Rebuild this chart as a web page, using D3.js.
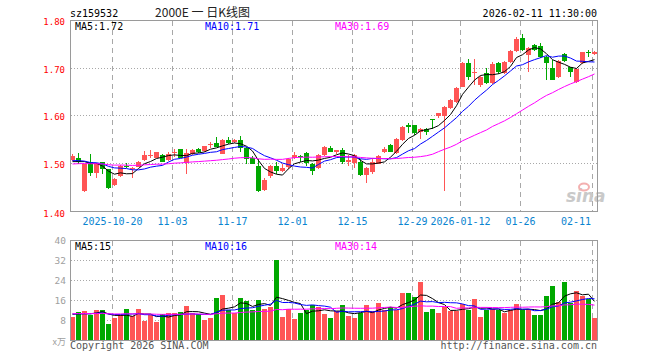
<!DOCTYPE html>
<html><head><meta charset="utf-8">
<script src="https://cdn.jsdelivr.net/npm/d3@7"></script>
<style>body{margin:0;background:#fff}svg{display:block}</style>
</head><body>
<svg id="c" width="660" height="360"></svg>
<script>
const dates = ["2025-10-09","2025-10-10","2025-10-13","2025-10-14","2025-10-15","2025-10-16","2025-10-17","2025-10-20","2025-10-21","2025-10-22","2025-10-23","2025-10-24","2025-10-27","2025-10-28","2025-10-29","2025-10-30","2025-10-31",
"2025-11-03","2025-11-04","2025-11-05","2025-11-06","2025-11-07","2025-11-10","2025-11-11","2025-11-12","2025-11-13","2025-11-14","2025-11-17","2025-11-18","2025-11-19","2025-11-20","2025-11-21","2025-11-24","2025-11-25","2025-11-26","2025-11-27","2025-11-28",
"2025-12-01","2025-12-02","2025-12-03","2025-12-04","2025-12-05","2025-12-08","2025-12-09","2025-12-10","2025-12-11","2025-12-12","2025-12-15","2025-12-16","2025-12-17","2025-12-18","2025-12-19","2025-12-22","2025-12-23","2025-12-24","2025-12-25","2025-12-26","2025-12-29","2025-12-30","2025-12-31",
"2026-01-05","2026-01-06","2026-01-07","2026-01-08","2026-01-09","2026-01-12","2026-01-13","2026-01-14","2026-01-15","2026-01-16","2026-01-19","2026-01-20","2026-01-21","2026-01-22","2026-01-23","2026-01-26","2026-01-27","2026-01-28","2026-01-29","2026-01-30",
"2026-02-02","2026-02-03","2026-02-04","2026-02-05","2026-02-06","2026-02-09","2026-02-10","2026-02-11"];

const open  = [1.508,1.513,1.444,1.505,1.482,1.505,1.489,1.456,1.474,1.4965,1.489,1.494,1.508,1.517,1.513,1.519,1.508,1.525,1.531,1.503,1.520,1.531,1.527,1.540,1.544,1.521,1.550,1.545,1.550,1.533,1.513,1.4965,1.446,1.475,1.4965,1.485,1.494,1.512,1.517,1.522,1.500,1.492,1.519,1.534,1.524,1.529,1.505,1.503,1.505,1.477,1.484,1.501,1.524,1.540,1.522,1.550,1.581,1.581,1.566,1.572,1.594,1.600,1.599,1.616,1.630,1.661,1.710,1.690,1.665,1.689,1.668,1.710,1.689,1.713,1.736,1.762,1.727,1.748,1.745,1.722,1.701,1.682,1.729,1.703,1.671,1.710,1.733,1.730];
const high  = [1.521,1.522,1.501,1.521,1.503,1.505,1.490,1.470,1.498,1.503,1.494,1.506,1.528,1.529,1.525,1.520,1.524,1.531,1.532,1.532,1.532,1.533,1.538,1.546,1.557,1.553,1.556,1.552,1.558,1.535,1.516,1.510,1.470,1.498,1.505,1.500,1.512,1.525,1.518,1.524,1.502,1.521,1.538,1.538,1.530,1.533,1.519,1.520,1.510,1.494,1.510,1.518,1.535,1.541,1.555,1.580,1.585,1.582,1.575,1.575,1.594,1.607,1.620,1.635,1.660,1.712,1.718,1.718,1.684,1.701,1.712,1.712,1.715,1.737,1.764,1.771,1.744,1.751,1.752,1.724,1.717,1.717,1.731,1.703,1.700,1.734,1.737,1.735];
const low   = [1.507,1.501,1.442,1.474,1.470,1.480,1.447,1.454,1.472,1.491,1.470,1.493,1.507,1.512,1.512,1.504,1.507,1.515,1.512,1.479,1.519,1.523,1.526,1.533,1.535,1.520,1.541,1.543,1.524,1.500,1.499,1.442,1.444,1.470,1.479,1.484,1.490,1.510,1.505,1.495,1.477,1.490,1.517,1.524,1.520,1.500,1.496,1.492,1.474,1.460,1.480,1.499,1.522,1.524,1.520,1.548,1.565,1.560,1.553,1.560,1.572,1.595,1.444,1.614,1.628,1.660,1.674,1.665,1.661,1.666,1.667,1.688,1.687,1.711,1.734,1.735,1.692,1.735,1.720,1.675,1.675,1.680,1.712,1.681,1.668,1.708,1.723,1.728];
const close = [1.517,1.505,1.500,1.482,1.503,1.489,1.451,1.469,1.496,1.493,1.491,1.504,1.519,1.519,1.524,1.505,1.521,1.526,1.513,1.522,1.529,1.525,1.537,1.541,1.536,1.550,1.543,1.549,1.533,1.510,1.500,1.444,1.467,1.4965,1.486,1.491,1.510,1.519,1.514,1.503,1.486,1.519,1.536,1.526,1.529,1.505,1.508,1.519,1.477,1.492,1.505,1.517,1.531,1.526,1.553,1.578,1.578,1.564,1.572,1.566,1.592,1.606,1.618,1.633,1.658,1.710,1.682,1.691,1.681,1.668,1.708,1.692,1.713,1.735,1.761,1.7375,1.741,1.7375,1.722,1.711,1.675,1.715,1.715,1.692,1.698,1.733,1.731,1.733];
const volume = [9.2,11.2,11.6,10,12,12,6.4,8.8,10,12.4,9.6,12.4,7.6,10,7.2,10.4,10.7,10.7,11.2,13.6,10.7,10.3,8,8.8,16.8,18,12,10.7,16.8,15.6,12,16,12.4,13.2,32,9.2,12.4,8.4,10.8,12,14,13.2,10.4,8.8,11.5,14,9.6,8.8,10.8,14,11.6,14.8,12,13.2,12,18.8,18.8,17.2,23.2,11.2,12.4,10.8,13.2,11.5,11.5,14.4,12,16.4,9.2,12,12.4,12,10.8,12,14.4,12,12.4,10,10,17.6,21.6,15.2,23.2,14.8,19.6,17.6,16.4,8.8];

// closes and volumes of the 29 sessions before the window, estimated so the moving averages start where the picture shows them
const priorClose = [1.485,1.49,1.495,1.50,1.505,1.50,1.495,1.49,1.50,1.509,1.49,1.495,1.50,1.505,1.50,1.495,1.49,1.495,1.495,1.496,1.505,1.51,1.512,1.508,1.51,1.505,1.50,1.502,1.501];
const priorVolume = [9.8,11.2,10.4,12.0,9.6,10.8,11.5,9.9,10.2,10.9,11.3,9.7,10.6,10.1,12.2,9.4,10.7,11.0,10.3,9.9,10.8,11.6,10.0,9.5,10.9,10.4,11.1,10.2,10.6];

const priceTicks = [1.40,1.50,1.60,1.70,1.80];
const volTicks = [8,16,24,32,40];
const tickDates = ["2025-10-20","2025-11-03","2025-11-17","2025-12-01","2025-12-15","2025-12-29","2026-01-12","2026-01-26","2026-02-11"];
const tickLabels = ["2025-10-20","11-03","11-17","12-01","12-15","12-29","2026-01-12","01-26","02-11"];

const RED = "#ff5555", GREEN = "#00a800";
const MONO = "'DejaVu Sans Mono', monospace";
const svg = d3.select("#c");

const x = d3.scaleBand().domain(dates).range([70, 597]).paddingInner(1/6).paddingOuter(0);
const y = d3.scaleLinear().domain([1.40, 1.80]).range([212, 20]);
const yv = d3.scaleLinear().domain([0, 40]).range([340, 240]);

function movingAvg(series, prior, p) {
  const all = prior.concat(series), off = prior.length;
  return series.map((_, i) => d3.mean(all.slice(off + i - p + 1, off + i + 1)));
}
const maP = [5, 10, 30].map(p => movingAvg(close, priorClose, p));
const maV = [5, 10, 30].map(p => movingAvg(volume, priorVolume, p));
const maColors = ["#000000", "#0000ff", "#ff00ff"];

const data = dates.map((d, i) => ({d, o: open[i], h: high[i], l: low[i], c: close[i], v: volume[i]}));
const col = r => r.c >= r.o ? RED : GREEN;

// grids
const grid = svg.append("g").attr("shape-rendering", "crispEdges");
priceTicks.filter(t => t > 1.41 && t < 1.79).forEach(t => {
  const yy = Math.floor(y(t)) + 0.5;
  grid.append("line").attr("x1", 71).attr("x2", 597).attr("y1", yy).attr("y2", yy)
    .attr("stroke", "#a8a8a8").attr("stroke-dasharray", "1,2");
});
volTicks.filter(t => t < 40).forEach(t => {
  const yy = Math.floor(yv(t)) + 0.5;
  grid.append("line").attr("x1", 71).attr("x2", 597).attr("y1", yy).attr("y2", yy)
    .attr("stroke", "#a8a8a8").attr("stroke-dasharray", "1,2");
});
tickDates.forEach(d => {
  const xx = x(d) + 0.5;
  [[21, 211], [241, 340]].forEach(([a, b]) =>
    grid.append("line").attr("x1", xx).attr("x2", xx).attr("y1", a).attr("y2", b)
      .attr("stroke", "#a8a8a8").attr("stroke-dasharray", "5,4"));
});

// watermark
const wm = svg.append("g");
wm.append("text").attr("x", 566).attr("y", 202).attr("font-family", "'DejaVu Sans', sans-serif")
  .attr("font-size", 17).attr("font-weight", "bold").attr("font-style", "italic")
  .attr("fill", "#c9c9c9").text("sina");
wm.append("ellipse").attr("cx", 584).attr("cy", 187).attr("rx", 5).attr("ry", 3.5)
  .attr("fill", "none").attr("stroke", "#f3b0b0").attr("stroke-width", 2);

// candles and volume bars
const cg = svg.append("g").attr("shape-rendering", "crispEdges");
data.forEach(r => {
  const x0 = x(r.d), c = col(r);
  cg.append("line").attr("x1", x0 + 2.5).attr("x2", x0 + 2.5).attr("y1", y(r.h)).attr("y2", y(r.l)).attr("stroke", c);
  const top = y(Math.max(r.o, r.c)), bot = y(Math.min(r.o, r.c));
  cg.append("rect").attr("x", x0).attr("y", top).attr("width", x.bandwidth()).attr("height", Math.max(1, bot - top)).attr("fill", c);
  cg.append("rect").attr("x", x0).attr("y", yv(r.v)).attr("width", x.bandwidth()).attr("height", yv(0) - yv(r.v)).attr("fill", c);
});

// moving average lines
const lp = d3.line().x((_, i) => x(dates[i]) + 2.5).y(v => y(v));
const lv = d3.line().x((_, i) => x(dates[i]) + 2.5).y(v => yv(v));
maP.forEach((s, j) => svg.append("path").attr("d", lp(s)).attr("fill", "none").attr("stroke", maColors[j]).attr("stroke-width", 1));
maV.forEach((s, j) => svg.append("path").attr("d", lv(s)).attr("fill", "none").attr("stroke", maColors[j]).attr("stroke-width", 1));

// frames
svg.append("rect").attr("x", 70.5).attr("y", 20.5).attr("width", 527).attr("height", 191)
  .attr("fill", "none").attr("stroke", "#9a9a9a").attr("shape-rendering", "crispEdges");
svg.append("rect").attr("x", 70.5).attr("y", 240.5).attr("width", 527).attr("height", 100)
  .attr("fill", "none").attr("stroke", "#9a9a9a").attr("shape-rendering", "crispEdges");

// axes labels
const txt = (xx, yy, s, o = {}) => svg.append("text").attr("x", xx).attr("y", yy)
  .attr("font-family", o.ff || MONO).attr("font-size", o.fs || 10).attr("fill", o.fill || "#000")
  .attr("text-anchor", o.anchor || "start").text(s);

priceTicks.forEach(t => txt(65, Math.floor(y(t)) + 4.5, t.toFixed(2), {fs: 9, fill: "#ff0000", anchor: "end"}));
volTicks.forEach(t => txt(66, Math.floor(yv(t)) + 3.5, String(t), {fs: 9.5, fill: "#a0a0a0", anchor: "end"}));
txt(66, 344.5, "x万", {fs: 9, fill: "#a0a0a0", anchor: "end", ff: "'Noto Sans CJK SC', sans-serif"});

tickDates.forEach((d, i) => {
  let cx = x(d) + 0.5;
  const w = tickLabels[i].length * 6.02;
  if (cx + w / 2 > 591) cx = 591 - w / 2;
  txt(cx, 225, tickLabels[i], {fill: "#0a84d0", anchor: "middle"});
});

// headers
txt(70, 16.5, "sz159532");
txt(202.5, 16.5, "2000E 一 日K线图", {ff: "'Noto Sans CJK SC', sans-serif", fs: 12, fill: "#222", anchor: "middle"});
txt(597, 16.5, "2026-02-11 11:30:00", {anchor: "end"});
const last = n => n[n.length - 1];
txt(75, 29.5, "MA5:" + last(maP[0]).toFixed(2));
txt(205, 29.5, "MA10:" + last(maP[1]).toFixed(2), {fill: "#0000ff"});
txt(335, 29.5, "MA30:" + last(maP[2]).toFixed(2), {fill: "#ff00ff"});
txt(75, 250, "MA5:" + Math.round(last(maV[0])));
txt(205, 250, "MA10:" + Math.round(last(maV[1])), {fill: "#0000ff"});
txt(335, 250, "MA30:" + Math.round(last(maV[2])), {fill: "#ff00ff"});
txt(70, 349, "Copyright 2026 SINA.COM", {fill: "#555"});
txt(597, 349, "http://finance.sina.com.cn", {fill: "#555", anchor: "end"});
</script>
</body></html>
